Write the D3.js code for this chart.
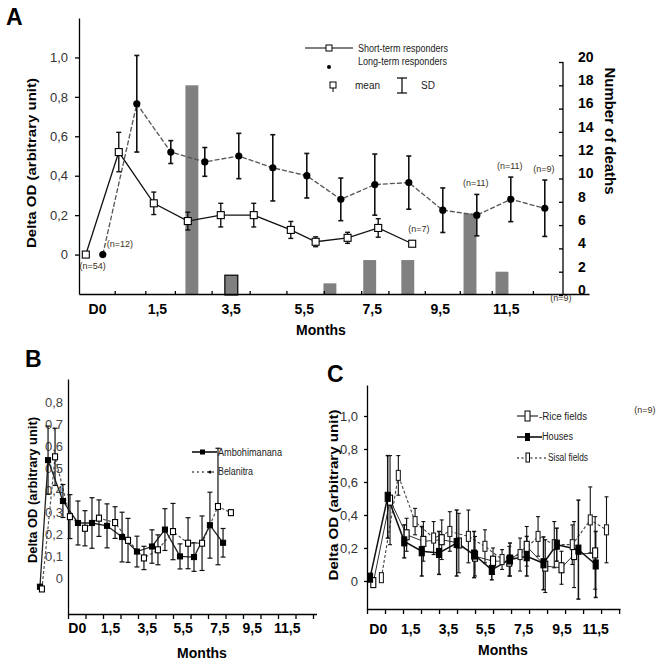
<!DOCTYPE html>
<html><head><meta charset="utf-8">
<script src="https://cdn.jsdelivr.net/npm/d3@7"></script>
<style>
body{margin:0;background:#fff}
text{font-family:Arial,"Liberation Sans",sans-serif}
</style></head>
<body><svg id="c" width="672" height="664"></svg>
<script>
// ---------------- Panel A data ----------------
const aShortX    = [0, 0.97, 2.0, 3.0, 3.97, 4.94, 6.03, 6.76, 7.7, 8.6, 9.6];
const aShortMean = [0, 0.52, 0.26, 0.17, 0.2, 0.2, 0.125, 0.065, 0.085, 0.135, 0.055];
const aShortSD   = [0, 0.1, 0.057, 0.045, 0.06, 0.06, 0.043, 0.025, 0.028, 0.047, 0];
const aLongX     = [0.5, 1.5, 2.5, 3.5, 4.5, 5.5, 6.5, 7.5, 8.5, 9.5, 10.5, 11.5, 12.5, 13.5];
const aLongMean  = [0, 0.765, 0.52, 0.47, 0.5, 0.44, 0.4, 0.28, 0.355, 0.365, 0.225, 0.2, 0.28, 0.235];
const aLongSD    = [0, 0.245, 0.058, 0.073, 0.115, 0.168, 0.113, 0.108, 0.155, 0.135, 0.113, 0.105, 0.113, 0.143];
const deathX     = [3.12, 4.28, 7.18, 8.35, 9.47, 11.3, 12.24];
const deaths     = [18, 1.7, 1, 3, 3, 7, 2];
const aYTicks    = [0, 0.2, 0.4, 0.6, 0.8, 1.0];
const aYLabels   = ["0", "0,2", "0,4", "0,6", "0,8", "1,0"];
const aRTicks    = [0, 2, 4, 6, 8, 10, 12, 14, 16, 18, 20];
const aXLabels   = ["D0", "1,5", "3,5", "5,5", "7,5", "9,5", "11,5"];
const aXLabelPos = [0.33, 2.09, 4.26, 6.41, 8.41, 10.41, 12.35];
const aXTickPos  = [0.85, 1.75, 2.62, 3.7, 4.82, 5.9, 7.0, 8.1, 8.9, 9.97, 11.0, 11.94, 13.15];
const aNText     = ["(n=54)", "(n=12)", "(n=7)", "(n=11)", "(n=11)", "(n=9)", "(n=9)"];
const aNX        = [0.2, 1.0, 9.8, 11.47, 12.47, 13.47, 13.97];
const aNY        = [-0.056, 0.056, 0.13, 0.365, 0.45, 0.437, -0.22];

// ---------------- Panel B data ----------------
const bAmboX    = [-1.6, -1.14, -0.29, 0.57, 1.37, 2.23, 3.09, 3.94, 4.8, 5.54, 6.4, 7.2, 8.11, 8.86];
const bAmboMean = [-0.04, 0.536, 0.35, 0.25, 0.25, 0.237, 0.186, 0.12, 0.143, 0.22, 0.098, 0.095, 0.24, 0.16];
const bAmboSD   = [0, 0.155, 0.075, 0.1, 0.115, 0.1, 0.113, 0.07, 0.076, 0.095, 0.057, 0.065, 0.15, 0.065];
const bBelaX    = [-1.49, -0.74, 0.11, 0.97, 1.77, 2.69, 3.43, 4.34, 5.14, 6.0, 6.86, 7.66, 8.57, 9.31];
const bBelaMean = [-0.05, 0.551, 0.279, 0.226, 0.272, 0.252, 0.171, 0.091, 0.128, 0.211, 0.158, 0.158, 0.325, 0.297];
const bBelaSD   = [0, 0.13, 0.1, 0.08, 0.083, 0.072, 0.1, 0.053, 0.068, 0.128, 0.116, 0.124, 0.265, 0];
const bYTicks   = [0, 0.1, 0.2, 0.3, 0.4, 0.5, 0.6, 0.7, 0.8];
const bYLabels  = ["0", "0,1", "0,2", "0,3", "0,4", "0,5", "0,6", "0,7", "0,8"];
const bXLabels  = ["D0", "1,5", "3,5", "5,5", "7,5", "9,5", "11,5"];
const bXLabelPos= [0.5, 2.4, 4.5, 6.55, 8.65, 10.5, 12.5];

// ---------------- Panel C data ----------------
const cHouseX    = [0.17, 1.15, 2.07, 3.04, 4.0, 4.98, 5.95, 6.93, 7.94, 8.87, 9.8, 10.54, 11.74, 12.7];
const cHouseMean = [0.02, 0.51, 0.24, 0.18, 0.17, 0.23, 0.16, 0.067, 0.13, 0.15, 0.107, 0.22, 0.19, 0.1];
const cHouseSD   = [0, 0.25, 0.1, 0.15, 0.13, 0.2, 0.14, 0.06, 0.1, 0.12, 0.16, 0.1, 0.3, 0.2];
const cRiceX     = [0.35, 1.28, 2.2, 3.13, 4.15, 5.1, 6.0, 7.0, 7.9, 8.87, 9.9, 10.8, 11.5, 12.67];
const cRiceMean  = [-0.01, 0.49, 0.28, 0.24, 0.25, 0.23, 0.15, 0.12, 0.12, 0.21, 0.09, 0.08, 0.16, 0.17];
const cRiceSD    = [0, 0.27, 0.1, 0.12, 0.12, 0.18, 0.12, 0.08, 0.09, 0.12, 0.16, 0.1, 0.2, 0.22];
const cSisalX    = [0.8, 1.74, 2.67, 3.7, 4.6, 5.63, 6.55, 7.5, 8.5, 9.5, 10.4, 11.4, 12.4, 13.3];
const cSisalMean = [0.02, 0.64, 0.36, 0.26, 0.3, 0.27, 0.21, 0.13, 0.16, 0.27, 0.22, 0.22, 0.37, 0.31];
const cSisalSD   = [0, 0.12, 0.08, 0.1, 0.12, 0.16, 0.1, 0.06, 0.1, 0.12, 0.14, 0.12, 0.2, 0.2];
const cYTicks    = [0, 0.2, 0.4, 0.6, 0.8, 1.0];
const cYLabels   = ["0", "0,2", "0,4", "0,6", "0,8", "1,0"];
const cXLabels   = ["D0", "1,5", "3,5", "5,5", "7,5", "9,5", "11,5"];
const cXLabelPos = [0.6, 2.4, 4.5, 6.55, 8.67, 10.8, 12.67];

// ---------------- helpers ----------------
const svg = d3.select("#c");
const zip = (xs, ms, ss) => xs.map((u, i) => ({u, m: ms[i], s: ss ? ss[i] : 0}));

function errorBars(g, data, x, y, cap, color, w) {
  const d = data.filter(e => e.s > 0);
  g.selectAll(null).data(d).enter().append("line")
    .attr("x1", e => x(e.u)).attr("x2", e => x(e.u))
    .attr("y1", e => y(e.m + e.s)).attr("y2", e => y(e.m - e.s))
    .attr("stroke", color).attr("stroke-width", w);
  [1, -1].forEach(k => {
    g.selectAll(null).data(d).enter().append("line")
      .attr("x1", e => x(e.u) - cap).attr("x2", e => x(e.u) + cap)
      .attr("y1", e => y(e.m + k * e.s)).attr("y2", e => y(e.m + k * e.s))
      .attr("stroke", color).attr("stroke-width", w);
  });
}
function seriesLine(g, data, x, y, color, w, dash) {
  g.append("path").datum(data)
    .attr("d", d3.line().x(e => x(e.u)).y(e => y(e.m)))
    .attr("fill", "none").attr("stroke", color).attr("stroke-width", w)
    .attr("stroke-dasharray", dash || null);
}
function rects(g, data, x, y, w, h, fill, stroke) {
  g.selectAll(null).data(data).enter().append("rect")
    .attr("x", e => x(e.u) - w / 2).attr("y", e => y(e.m) - h / 2)
    .attr("width", w).attr("height", h)
    .attr("fill", fill).attr("stroke", stroke).attr("stroke-width", 1.1);
}
function styleAxis(sel, size, weight, color) {
  sel.selectAll("path,line").attr("stroke", "#000").attr("stroke-width", 1.3);
  sel.selectAll("text").attr("font-size", size).attr("font-weight", weight)
    .attr("fill", color).attr("font-family", "Arial,'Liberation Sans',sans-serif");
}
function label(txt, x, y, opts) {
  const t = svg.append("text").attr("x", x).attr("y", y).text(txt)
    .attr("font-size", opts.size).attr("font-weight", opts.weight || "normal")
    .attr("fill", opts.fill || "#000")
    .attr("text-anchor", opts.anchor || "start");
  if (opts.rotate) t.attr("transform", `rotate(${opts.rotate},${x},${y})`);
  if (opts.len) t.attr("textLength", opts.len).attr("lengthAdjust", "spacingAndGlyphs");
  if (opts.dy) t.attr("dy", opts.dy);
  return t;
}

// ================= Panel A =================
const xA = d3.scaleLinear().domain([-0.2, 14.8]).range([79, 589]);
const yA = d3.scaleLinear().domain([-0.2, 1.2]).range([294, 18]);
const yR = d3.scaleLinear().domain([0, 20]).range([295, 62]);
const gA = svg.append("g");

gA.selectAll(null).data(deathX.map((u, i) => ({u, v: deaths[i], i}))).enter().append("rect")
  .attr("x", d => xA(d.u - 0.19)).attr("width", d => xA(0.38) - xA(0))
  .attr("y", d => yR(d.v)).attr("height", d => yR(0) - yR(d.v))
  .attr("fill", "#808080")
  .attr("stroke", d => d.i === 1 ? "#000" : "none").attr("stroke-width", 1.2);

const axAL = gA.append("g").attr("transform", `translate(${xA(-0.2)},0)`)
  .call(d3.axisLeft(yA).tickValues(aYTicks).tickFormat((d, i) => aYLabels[i]).tickSize(4).tickSizeOuter(0).tickPadding(7));
styleAxis(axAL, 13, "normal", "#333");
const axAR = gA.append("g").attr("transform", `translate(563,0)`)
  .call(d3.axisRight(yR).tickValues(aRTicks).tickSizeInner(-4).tickSizeOuter(0).tickPadding(15));
styleAxis(axAR, 14, "bold", "#000");
axAR.selectAll("text").attr("dy", "-0.05em");
axAR.select(".domain").attr("d", `M0,${yR(20)}V${yA(-0.2)}`);
const axAB = gA.append("g").attr("transform", `translate(0,${yA(-0.2)})`)
  .call(d3.axisBottom(xA).tickValues(aXTickPos).tickFormat("").tickSize(-3).tickSizeOuter(0));
styleAxis(axAB, 13, "bold", "#000");
const axABl = gA.append("g").attr("transform", `translate(0,${yA(-0.2)})`)
  .call(d3.axisBottom(xA).tickValues(aXLabelPos).tickFormat((d, i) => aXLabels[i]).tickSize(0).tickPadding(10));
styleAxis(axABl, 14, "bold", "#000");
axABl.select(".domain").remove();

const aShort = zip(aShortX, aShortMean, aShortSD);
const aLong = zip(aLongX, aLongMean, aLongSD);
seriesLine(gA, aLong, xA, yA, "#555", 1.3, "5,2");
seriesLine(gA, aShort, xA, yA, "#111", 1.3);
errorBars(gA, aLong, xA, yA, 2.5, "#111", 1.6);
errorBars(gA, aShort, xA, yA, 2.5, "#111", 1.4);
gA.selectAll(null).data(aLong).enter().append("circle")
  .attr("cx", d => xA(d.u)).attr("cy", d => yA(d.m)).attr("r", 3.6).attr("fill", "#000");
rects(gA, aShort, xA, yA, 7, 7, "#fff", "#000");

aNText.forEach((t, i) => label(t, xA(aNX[i]), yA(aNY[i]), {size: 9, anchor: "middle", fill: "#3a3020", dy: "0.35em"}));

gA.append("line").attr("x1", 305).attr("x2", 353).attr("y1", 48).attr("y2", 48).attr("stroke", "#000").attr("stroke-width", 1.2);
gA.append("rect").attr("x", 326).attr("y", 45).attr("width", 6).attr("height", 6).attr("fill", "#fff").attr("stroke", "#000");
label("Short-term responders", 358, 48, {size: 10, len: 90, dy: "0.35em", fill: "#222"});
gA.append("circle").attr("cx", 329).attr("cy", 67).attr("r", 2).attr("fill", "#000");
label("Long-term responders", 358, 61, {size: 10, len: 89, dy: "0.35em", fill: "#222"});
gA.append("rect").attr("x", 330).attr("y", 82).attr("width", 6).attr("height", 6).attr("fill", "#fff").attr("stroke", "#000");
gA.append("line").attr("x1", 333).attr("x2", 333).attr("y1", 88).attr("y2", 92).attr("stroke", "#000");
label("mean", 355, 85, {size: 10, len: 25, dy: "0.35em", fill: "#222"});
gA.append("line").attr("x1", 402).attr("x2", 402).attr("y1", 78).attr("y2", 93).attr("stroke", "#000").attr("stroke-width", 1.2);
gA.append("line").attr("x1", 397).attr("x2", 407).attr("y1", 78).attr("y2", 78).attr("stroke", "#000").attr("stroke-width", 1.2);
gA.append("line").attr("x1", 397).attr("x2", 407).attr("y1", 93).attr("y2", 93).attr("stroke", "#000").attr("stroke-width", 1.2);
label("SD", 421, 85, {size: 10, dy: "0.35em", fill: "#222"});

label("A", 6, 25, {size: 23, weight: "bold"});
label("Delta OD (arbitrary unit)", 36, 163, {size: 13, weight: "bold", anchor: "middle", rotate: -90, len: 170});
label("Number of deaths", 605, 131, {size: 14, weight: "bold", anchor: "middle", rotate: 90, len: 127});
label("Months", 321, 335, {size: 14, weight: "bold", anchor: "middle"});

// ================= Panel B =================
const xB = d3.scaleLinear().domain([0, 14.2]).range([68, 316.5]);
const yB = d3.scaleLinear().domain([-0.164, 0.905]).range([614, 379]);
const gB = svg.append("g");
const axBL = gB.append("g").attr("transform", `translate(68,0)`)
  .call(d3.axisLeft(yB).tickValues(bYTicks).tickFormat((d, i) => bYLabels[i]).tickSize(0).tickSizeOuter(0).tickPadding(5));
styleAxis(axBL, 13, "normal", "#444");
const axBB = gB.append("g").attr("transform", `translate(0,614)`)
  .call(d3.axisBottom(xB).tickValues(d3.range(0, 15)).tickFormat("").tickSize(5).tickSizeOuter(0));
styleAxis(axBB, 13, "bold", "#000");
const axBBl = gB.append("g").attr("transform", `translate(0,614)`)
  .call(d3.axisBottom(xB).tickValues(bXLabelPos).tickFormat((d, i) => bXLabels[i]).tickSize(0).tickPadding(9));
styleAxis(axBBl, 14, "bold", "#000");
axBBl.select(".domain").remove();

const bAmbo = zip(bAmboX, bAmboMean, bAmboSD);
const bBela = zip(bBelaX, bBelaMean, bBelaSD);
seriesLine(gB, bBela, xB, yB, "#555", 1.2, "3,2");
seriesLine(gB, bAmbo, xB, yB, "#222", 1.3);
errorBars(gB, bAmbo, xB, yB, 2.5, "#111", 1.2);
errorBars(gB, bBela, xB, yB, 2.5, "#111", 1.2);
rects(gB, bAmbo, xB, yB, 5, 5, "#000", "#000");
rects(gB, bBela, xB, yB, 5, 6, "#fff", "#000");

gB.append("line").attr("x1", 192).attr("x2", 217).attr("y1", 452).attr("y2", 452).attr("stroke", "#000").attr("stroke-width", 1.5);
gB.append("rect").attr("x", 200).attr("y", 449.5).attr("width", 5).attr("height", 5).attr("fill", "#000");
label("Ambohimanana", 218, 452, {size: 10, len: 64, dy: "0.35em", fill: "#222"});
gB.append("line").attr("x1", 192).attr("x2", 217).attr("y1", 472).attr("y2", 472).attr("stroke", "#000").attr("stroke-width", 1.2).attr("stroke-dasharray", "2,3");
gB.append("circle").attr("cx", 210).attr("cy", 472).attr("r", 1.6).attr("fill", "#000");
label("Belanitra", 218, 471, {size: 10, len: 35, dy: "0.35em", fill: "#222"});

label("B", 25, 367, {size: 23, weight: "bold"});
label("Delta OD (arbitrary unit)", 37, 490, {size: 13, weight: "bold", anchor: "middle", rotate: -90, len: 146});
label("Months", 202, 658, {size: 14, weight: "bold", anchor: "middle"});

// ================= Panel C =================
const xC = d3.scaleLinear().domain([0, 14.05]).range([367, 620]);
const yC = d3.scaleLinear().domain([-0.17, 1.188]).range([609, 385]);
const gC = svg.append("g");
const axCL = gC.append("g").attr("transform", `translate(367,0)`)
  .call(d3.axisLeft(yC).tickValues(cYTicks).tickFormat((d, i) => cYLabels[i]).tickSize(3).tickSizeOuter(0).tickPadding(6));
styleAxis(axCL, 13, "normal", "#333");
const axCB = gC.append("g").attr("transform", `translate(0,609)`)
  .call(d3.axisBottom(xC).tickValues(d3.range(0, 15)).tickFormat("").tickSize(5).tickSizeOuter(0));
styleAxis(axCB, 13, "bold", "#000");
const axCBl = gC.append("g").attr("transform", `translate(0,609)`)
  .call(d3.axisBottom(xC).tickValues(cXLabelPos).tickFormat((d, i) => cXLabels[i]).tickSize(0).tickPadding(15));
styleAxis(axCBl, 14, "bold", "#000");
axCBl.select(".domain").remove();

const cHouse = zip(cHouseX, cHouseMean, cHouseSD);
const cRice = zip(cRiceX, cRiceMean, cRiceSD);
const cSisal = zip(cSisalX, cSisalMean, cSisalSD);
seriesLine(gC, cSisal, xC, yC, "#444", 1.1, "3,2");
seriesLine(gC, cRice, xC, yC, "#333", 1.0);
seriesLine(gC, cHouse, xC, yC, "#111", 1.5);
errorBars(gC, cSisal, xC, yC, 2, "#111", 1.1);
errorBars(gC, cRice, xC, yC, 2, "#111", 1.1);
errorBars(gC, cHouse, xC, yC, 2, "#111", 1.5);
rects(gC, cSisal, xC, yC, 4, 10, "#fff", "#222");
rects(gC, cRice, xC, yC, 5, 10, "#fff", "#000");
rects(gC, cHouse, xC, yC, 5, 9, "#000", "#000");

gC.append("line").attr("x1", 517).attr("x2", 538).attr("y1", 416).attr("y2", 416).attr("stroke", "#000").attr("stroke-width", 1);
gC.append("rect").attr("x", 525).attr("y", 411).attr("width", 5).attr("height", 10).attr("fill", "#fff").attr("stroke", "#000");
label("-Rice fields", 539, 416, {size: 10, len: 48, dy: "0.35em", fill: "#222"});
gC.append("line").attr("x1", 517).attr("x2", 542).attr("y1", 437).attr("y2", 437).attr("stroke", "#000").attr("stroke-width", 1.5);
gC.append("rect").attr("x", 525).attr("y", 433).attr("width", 5).attr("height", 8).attr("fill", "#000");
label("Houses", 542, 436, {size: 10, len: 31, dy: "0.35em", fill: "#222"});
gC.append("line").attr("x1", 517).attr("x2", 546).attr("y1", 458).attr("y2", 458).attr("stroke", "#000").attr("stroke-width", 1.1).attr("stroke-dasharray", "2,2.5");
gC.append("rect").attr("x", 526).attr("y", 453).attr("width", 3.5).attr("height", 9).attr("fill", "#fff").attr("stroke", "#000");
label("Sisal fields", 548, 457, {size: 10, len: 40, dy: "0.35em", fill: "#222"});
label("(n=9)", 645, 410, {size: 9, anchor: "middle", fill: "#3a3020", dy: "0.35em"});

label("C", 327, 382, {size: 23, weight: "bold"});
label("Delta OD (arbitrary unit)", 338, 495, {size: 13, weight: "bold", anchor: "middle", rotate: -90, len: 171});
label("Months", 503, 655, {size: 14, weight: "bold", anchor: "middle"});
</script>
</body></html>
